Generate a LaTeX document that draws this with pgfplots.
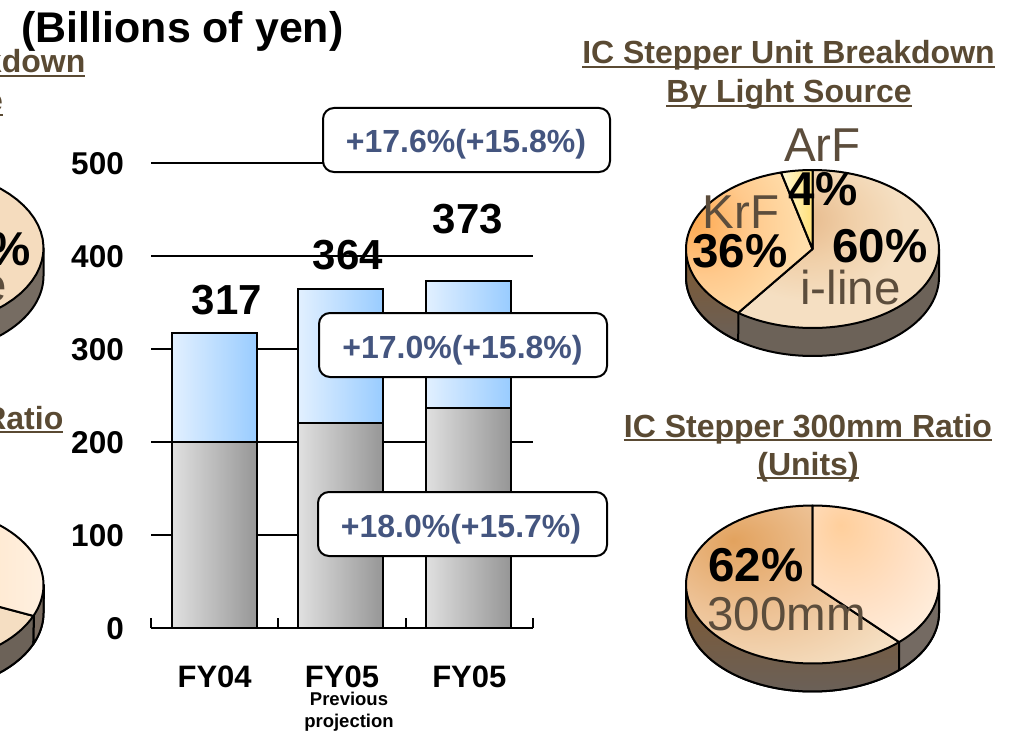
\documentclass[border=0pt]{standalone}
\usepackage{pgfplots}
\pgfplotsset{compat=1.18}
\usepackage{fontspec}
\setmainfont{Liberation Sans}
\definecolor{brn}{HTML}{5A4A33}
\definecolor{lbl}{HTML}{5C4D3C}
\definecolor{blu}{HTML}{44557F}
\definecolor{aa}{HTML}{E6B88A}\definecolor{ab}{HTML}{F0CFA8}\definecolor{ac}{HTML}{F5DFC2}
\definecolor{ba}{HTML}{FDA950}\definecolor{bb}{HTML}{FFC98C}\definecolor{bc}{HTML}{FFDEAC}
\definecolor{ca}{HTML}{E2A25E}\definecolor{cb}{HTML}{EDC194}\definecolor{cc}{HTML}{F5DFC2}
\definecolor{da}{HTML}{FFCF9C}\definecolor{db}{HTML}{FFE0C4}\definecolor{dc}{HTML}{FFF1E2}
\definecolor{blL}{RGB}{226,240,255}\definecolor{blR}{RGB}{153,204,255}
\definecolor{grL}{RGB}{224,224,224}\definecolor{grR}{RGB}{150,150,150}
\definecolor{wa}{RGB}{128,88,46}\definecolor{wb}{RGB}{108,96,86}\definecolor{wc}{RGB}{106,96,88}
\pgfdeclareradialshading{sIline}{\pgfpoint{-10bp}{10bp}}{color(0bp)=(aa);color(12bp)=(ab);color(24bp)=(ac);color(100bp)=(ac)}
\pgfdeclareradialshading{sKrf}{\pgfpoint{-22bp}{8bp}}{color(0bp)=(ba);color(18bp)=(bb);color(36bp)=(bc);color(100bp)=(bc)}
\pgfdeclareradialshading{sMain}{\pgfpoint{-14bp}{14bp}}{color(0bp)=(ca);color(20bp)=(cb);color(40bp)=(cc);color(100bp)=(cc)}
\pgfdeclareradialshading{sRest}{\pgfpoint{-14bp}{18bp}}{color(0bp)=(da);color(24bp)=(db);color(44bp)=(dc);color(100bp)=(dc)}
% px = pt
\newcommand\fs[1]{\fontsize{#1}{#1}\selectfont}
\newcommand\ul[1]{\setbox0\hbox{#1}\rlap{\rule[-0.135em]{\wd0}{0.08em}}\box0}
% slice: cx cy pctFrom pctTo options   (percent clockwise from 12 o'clock)
\newcommand\slice[5]{\addplot[variable=\t,samples=70,domain=90-3.6*#4:90-3.6*#3,draw=black,line width=2pt,line join=round,#5]
  ({#1+126.5*cos(\t)},{#2-79*sin(\t)}) -- (axis cs:#1,#2) -- cycle;}
% whole wall
\newcommand\wall[3]{\addplot[variable=\t,samples=70,domain=-180:0,draw=black,line width=2pt,line join=round,#3]
  ({#1+126.5*cos(\t)},{#2+28-79*sin(\t)}) -- (axis cs:#1+126.5,#2) -- (axis cs:#1-126.5,#2) -- cycle;}
% wall piece: cx cy t1 t2 options  x2,y2  x1,y1
\newcommand\wallpiece[7]{\addplot[variable=\t,samples=40,domain=#3:#4,draw=black,line width=2pt,line join=round,#5]
  ({#1+126.5*cos(\t)},{#2+28-79*sin(\t)}) -- (axis cs:#6) -- (axis cs:#7) -- cycle;}
\newcommand\T[5]{\node[anchor=base,inner sep=0pt,text=#4,font=\fs{#3}] at (axis cs:#1,#2) {#5};}
\newcommand\TB[5]{\node[anchor=base,inner sep=0pt,text=#4,font=\fs{#3}\bfseries] at (axis cs:#1,#2) {#5};}
\newcommand\TE[5]{\node[anchor=base east,inner sep=0pt,text=#4,font=\fs{#3}\bfseries] at (axis cs:#1,#2) {#5};}
\begin{document}
\begin{tikzpicture}
\useasboundingbox (0,0) rectangle (1014pt,733pt);
% ---- bar chart
\begin{axis}[
  at={(151pt,105pt)},anchor=south west,
  scale only axis,width=382pt,height=465pt,
  xmin=-0.5,xmax=2.5,ymin=0,ymax=500,
  clip=false,
  axis lines=left,
  axis line style={-,line width=2pt},
  y axis line style={draw=none},
  xtick={-0.5,0.5,1.5,2.5},
  xticklabels={FY04,FY05,FY05},
  x tick label as interval,
  tick align=inside,
  major tick length=10pt,
  x tick style={black,line width=2pt},
  ytick={0,100,200,300,400,500},
  y tick style={draw=none},
  ymajorgrids,
  grid style={black,line width=1.6pt},
  /pgf/number format/assume math mode=true,
  yticklabel style={font=\fs{31.5}\bfseries,anchor=east,xshift=-27pt,yshift=-1pt,inner sep=0pt},
  xticklabel style={font=\fs{31}\bfseries,anchor=north,yshift=-38pt,inner sep=0pt},
]
\addplot[ybar,bar shift=0pt,bar width=85pt,draw=black,line width=2pt,left color=blL,right color=blR] coordinates {(0,317)};
\addplot[ybar,bar shift=0pt,bar width=85pt,draw=black,line width=2pt,left color=blL,right color=blR] coordinates {(0.99,364)};
\addplot[ybar,bar shift=0pt,bar width=85pt,draw=black,line width=2pt,left color=blL,right color=blR] coordinates {(1.99,373)};
\addplot[ybar,bar shift=0pt,bar width=85pt,draw=black,line width=2pt,left color=grL,right color=grR] coordinates {(0,200)};
\addplot[ybar,bar shift=0pt,bar width=85pt,draw=black,line width=2pt,left color=grL,right color=grR] coordinates {(0.99,220)};
\addplot[ybar,bar shift=0pt,bar width=85pt,draw=black,line width=2pt,left color=grL,right color=grR] coordinates {(1.99,237)};
\end{axis}
% ---- everything else, in pixel coordinates of the page
\begin{axis}[
  at={(0pt,0pt)},anchor=south west,
  scale only axis,width=1014pt,height=733pt,
  xmin=0,xmax=1014,ymin=0,ymax=733,y dir=reverse,
  axis lines=none,
]
% right upper pie: i-line 60, KrF 36, ArF 4
\wall{812.5}{249}{fill={rgb,255:red,108;green,98;blue,88}}
\wallpiece{812.5}{249}{-180}{-126}{top color=wa,middle color=wb,bottom color=wc}{738.5,313}{686,249}
\slice{812.5}{249}{0}{60}{shade,shading=sIline}
\slice{812.5}{249}{60}{96}{shade,shading=sKrf}
\slice{812.5}{249}{96}{100}{left color={rgb,255:red,255;green,248;blue,214},right color={rgb,255:red,255;green,224;blue,120}}
\T{822.5}{161}{47.5}{lbl}{ArF}
\T{741}{228}{47.5}{lbl}{KrF}
\T{850.5}{304}{47.5}{lbl}{i-line}
\TB{823}{205}{47.5}{black}{4\%}
\TB{880}{262}{47.5}{black}{60\%}
\TB{740}{267}{47.5}{black}{36\%}
% right lower pie: 62 / 38
\wall{812.5}{584.5}{fill={rgb,255:red,108;green,98;blue,88}}
\wallpiece{812.5}{584.5}{-180}{-46.8}{top color=wa,middle color=wb,bottom color=wc}{899,642}{686,584.5}
\wallpiece{812.5}{584.5}{-46.8}{0}{fill={rgb,255:red,116;green,106;blue,98}}{939,584.5}{899,642}
\slice{812.5}{584.5}{38}{100}{shade,shading=sMain}
\slice{812.5}{584.5}{0}{38}{shade,shading=sRest}
\TB{756}{581}{47.5}{black}{62\%}
\T{786.5}{630}{47.5}{lbl}{300mm}
% left upper pie (cut by the page)
\wall{-83}{248}{fill={rgb,255:red,118;green,108;blue,98}}
\slice{-83}{248}{0}{100}{fill={rgb,255:red,245;green,220;blue,190}}
\TE{31}{265}{47.5}{black}{2\%}
\node[anchor=base east,inner sep=0pt,text=lbl,font=\fs{47.5}] at (axis cs:7,301) {e};
% left lower pie (cut by the page)
\wall{-83}{585}{fill={rgb,255:red,108;green,98;blue,88}}
\wallpiece{-83}{585}{-180}{-23}{fill={rgb,255:red,108;green,98;blue,88}}{34,614}{-209,585}
\wallpiece{-83}{585}{-23}{0}{fill={rgb,255:red,122;green,108;blue,96}}{44,585}{34,614}
\slice{-83}{585}{31.4}{100}{fill={rgb,255:red,245;green,222;blue,194}}
\slice{-83}{585}{0}{31.4}{left color={rgb,255:red,255;green,224;blue,190},right color={rgb,255:red,255;green,240;blue,224}}
% titles
\TB{182.5}{43}{42.9}{black}{(Billions of yen)}
\TB{788.5}{64}{32}{brn}{\ul{IC Stepper Unit Breakdown}}
\TB{789}{103}{32}{brn}{\ul{By Light Source}}
\TB{808}{437}{32}{brn}{\ul{IC Stepper 300mm Ratio}}
\TB{808}{475}{32}{brn}{\ul{(Units)}}
\TE{85.5}{73}{32}{brn}{\ul{kdown}}
\TE{3}{112}{32}{brn}{\ul{e}}
\TE{63.5}{429}{32}{brn}{\ul{Ratio}}
% bar values
\TB{227}{314}{42}{black}{317}
\TB{348}{269}{42}{black}{364}
\TB{468}{233}{42}{black}{373}
\TB{349}{705}{18.5}{black}{Previous}
\TB{349}{727}{18.5}{black}{projection}
% callouts
\draw[draw=black,line width=2pt,fill=white,rounded corners=11pt] (axis cs:323,108) rectangle (axis cs:610,172);
\TB{466}{153}{32}{blu}{+17.6\%(+15.8\%)}
\draw[draw=black,line width=2pt,fill=white,rounded corners=11pt] (axis cs:319,313) rectangle (axis cs:607,377);
\TB{462.5}{358}{32}{blu}{+17.0\%(+15.8\%)}
\draw[draw=black,line width=2pt,fill=white,rounded corners=11pt] (axis cs:318,492) rectangle (axis cs:607,556);
\TB{461}{537}{32}{blu}{+18.0\%(+15.7\%)}
\end{axis}
\end{tikzpicture}
\end{document}
